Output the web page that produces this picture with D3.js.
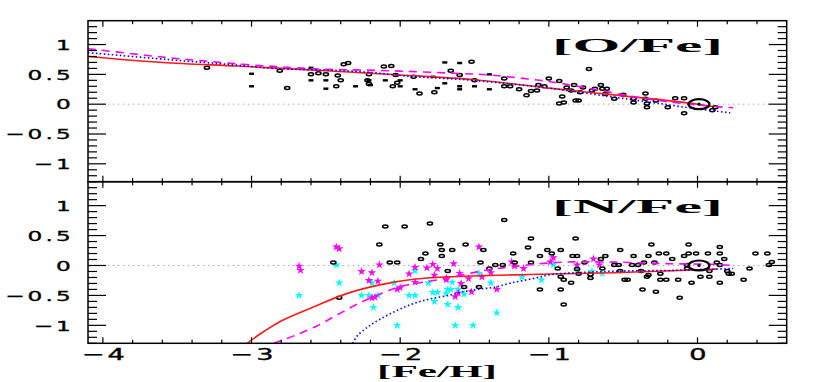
<!DOCTYPE html>
<html>
<head>
<meta charset="utf-8">
<script src="https://cdn.jsdelivr.net/npm/d3@7"></script>
<style>
  body { margin: 0; background: #fff; }
  svg { display: block; }
</style>
</head>
<body>
<div id="chart"></div>
<script>
// tick values / labels
const xMajor = [-4, -3, -2, -1, 0];
const xLabels = ["\u22124", "\u22123", "\u22122", "\u22121", "0"];
const yMajor = [1, 0.5, 0, -0.5, -1];
const yLabels = ["1", "0.5", "0", "\u22120.5", "\u22121"];

// [O/Fe] model curves: [Fe/H], value
const oRed = [[-4.1,0.80],[-3.6,0.70],[-3.1,0.64],[-2.8,0.60],[-2.5,0.56],[-2.0,0.49],[-1.5,0.41],[-1.0,0.27],[-0.5,0.14],[0.0,0.0],[0.1,-0.04]];
const oMagenta = [[-4.1,0.93],[-3.6,0.79],[-3.34,0.73],[-3.06,0.67],[-2.8,0.625],[-2.55,0.59],[-2.3,0.575],[-2.0,0.555],[-1.65,0.52],[-1.4,0.49],[-1.13,0.42],[-1.0,0.38],[-0.76,0.28],[-0.47,0.145],[-0.21,0.045],[0.07,-0.03],[0.24,-0.06]];
const oBlue = [[-4.1,0.865],[-3.57,0.75],[-3.12,0.66],[-2.85,0.60],[-2.29,0.55],[-1.9,0.46],[-1.56,0.41],[-1.22,0.33],[-1.03,0.28],[-0.61,0.135],[-0.31,0.03],[0.0,-0.08],[0.22,-0.145]];

// [O/Fe] observations
const oOvals = [[-3.30,0.61],[-2.76,0.27],[-2.81,0.56],[-2.60,0.50],[-2.55,0.52],[-2.50,0.50],[-2.42,0.48],[-2.40,0.40],[-2.43,0.30],[-2.38,0.67],[-2.35,0.69],[-2.22,0.40],[-2.21,0.34],[-2.21,0.50],[-2.11,0.63],[-2.06,0.64],[-2.05,0.30],[-2.02,0.36],[-2.03,0.49],[-1.91,0.46],[-1.87,0.18],[-1.77,0.20],[-1.66,0.56],[-1.60,0.49],[-1.52,0.71],[-1.50,0.40],[-1.30,0.43],[-1.30,0.30],[-1.26,0.30],[-1.20,0.25],[-1.15,0.15],[-1.12,0.22],[-1.08,0.23],[-1.07,0.32],[-1.03,0.30],[-1.00,0.43],[-0.93,0.39],[-0.91,0.13],[-0.90,0.03],[-0.93,0.01],[-0.88,0.28],[-0.83,0.32],[-0.85,0.23],[-0.82,0.06],[-0.80,0.06],[-0.79,0.20],[-0.77,0.28],[-0.73,0.59],[-0.71,0.23],[-0.69,0.26],[-0.65,0.32],[-0.64,0.26],[-0.61,0.26],[-0.62,0.17],[-0.56,0.09],[-0.50,0.16],[-0.43,0.09],[-0.43,0.03],[-0.35,0.18],[-0.35,0.09],[-0.34,0.01],[-0.34,-0.05],[-0.28,0.06],[-0.20,-0.05],[-0.15,0.10],[-0.09,0.10],[-0.09,-0.15],[0.10,-0.10],[0.12,-0.05]];
const oBars = [[-3.00,0.51],[-3.00,0.30],[-2.60,0.61],[-2.60,0.40],[-2.50,0.40],[-2.50,0.26],[-2.30,0.30],[-2.20,0.32],[-2.21,0.40],[-2.10,0.40],[-2.00,0.30],[-2.00,0.40],[-1.90,0.25],[-1.78,0.46],[-1.75,0.27],[-1.70,0.70],[-1.70,0.35],[-1.60,0.69],[-1.60,0.30],[-1.60,0.25],[-1.50,0.30],[-1.40,0.50],[-1.40,0.25]];

// [N/Fe] model curves
const nRed = [[-3.03,-1.30],[-2.91,-1.09],[-2.81,-0.94],[-2.58,-0.69],[-2.36,-0.47],[-2.13,-0.32],[-1.91,-0.23],[-1.68,-0.19],[-1.13,-0.15],[-0.56,-0.12],[0.13,-0.06]];
const nMagenta = [[-2.85,-1.30],[-2.72,-1.18],[-2.56,-1.01],[-2.42,-0.82],[-2.28,-0.635],[-2.12,-0.46],[-1.98,-0.34],[-1.75,-0.24],[-1.59,-0.16],[-1.45,-0.09],[-1.31,-0.04],[-0.95,0.05],[-0.68,0.06],[-0.45,0.05],[-0.19,0.03],[0.09,0.02],[0.24,0.0]];
const nBlue = [[-2.32,-1.30],[-2.29,-1.18],[-2.22,-1.03],[-2.13,-0.89],[-2.02,-0.75],[-1.91,-0.635],[-1.80,-0.56],[-1.68,-0.50],[-1.58,-0.44],[-1.47,-0.395],[-1.36,-0.36],[-1.25,-0.29],[-1.11,-0.22],[-0.98,-0.15],[-0.80,-0.12],[-0.57,-0.095],[-0.13,-0.08],[0.24,-0.05]];

// [N/Fe] observations
const nBlack = [[-2.10,0.65],[-1.97,0.65],[-1.80,0.70],[-2.14,0.35],[-2.45,0.05],[-2.07,0.05],[-2.02,0.05],[-2.41,-0.54],[-1.73,0.35],[-1.72,0.26],[-1.72,0.16],[-1.83,0.20],[-1.86,0.11],[-1.68,-0.09],
  [-1.30,0.76],[-1.56,0.35],[-1.65,0.26],[-1.44,0.26],[-1.46,0.05],[-1.36,0.01],[-1.31,0.01],[-1.40,-0.05],[-1.57,-0.36],[-1.47,-0.36],[-1.24,0.20],[-1.23,0.05],[-1.12,0.45],[-1.14,0.30],[-1.12,0.05],[-1.06,0.16],[-1.06,-0.40],[-1.01,0.26],[-0.98,0.20],[-0.92,0.26],[-0.94,-0.05],[-0.92,-0.19],[-0.90,-0.24],[-0.85,-0.29],[-0.92,-0.40],[-0.90,-0.65],[-0.82,0.45],[-0.84,0.16],[-0.81,0.16],[-0.76,0.05],[-0.81,-0.06],[-0.80,-0.14],[-0.72,-0.15],[-0.72,-0.21],[-0.65,0.11],[-0.62,0.16],[-0.64,-0.05],[-0.56,0.01],
  [-0.52,0.26],[-0.53,0.01],[-0.43,0.16],[-0.44,0.01],[-0.40,0.01],[-0.36,0.05],[-0.52,-0.09],[-0.49,-0.24],[-0.47,-0.24],[-0.38,-0.09],[-0.34,-0.19],[-0.33,-0.16],[-0.37,-0.40],[-0.31,0.35],[-0.33,0.16],[-0.29,0.05],[-0.28,-0.44],[-0.26,0.20],[-0.21,0.20],[-0.25,-0.14],[-0.25,-0.24],[-0.21,-0.24],[-0.17,0.11],[-0.13,-0.24],[-0.12,-0.54],[-0.09,0.16],[-0.06,0.35],[-0.06,0.20],[-0.01,0.20],[-0.04,-0.29],[-0.07,0.01],[-0.07,-0.05],[0.02,-0.19],[0.07,0.20],[0.08,-0.19],[0.08,-0.09],[0.13,0.05],[0.15,0.31],[0.15,0.20],[0.18,0.11],[0.15,0.01],[0.15,-0.29],[0.20,-0.09],[0.21,-0.14],[0.23,-0.14],[0.31,-0.24],[0.35,-0.05],[0.39,0.20],[0.47,0.20],[0.50,0.06],[0.48,0.01]];
const nMagentaStars = [[-2.43,0.31],[-2.41,0.28],[-2.68,-0.01],[-2.67,-0.08],[-2.14,0.01],[-2.26,-0.10],[-2.19,-0.12],[-2.21,-0.25],[-2.15,-0.26],[-2.19,-0.54],[-2.17,-0.53],[-2.02,-0.40],[-2.00,-0.37],[-1.94,-0.14],[-1.90,-0.03],[-1.90,-0.28],[-1.82,-0.04],[-1.78,0.02],[-1.75,-0.05],[-1.77,-0.16],[-1.69,-0.21],[-1.69,-0.24],
  [-1.47,0.31],[-1.64,0.03],[-1.60,-0.13],[-1.59,-0.30],[-1.61,-0.46],[-1.63,-0.52],[-1.54,-0.22],[-1.52,-0.44],[-1.35,-0.40],[-1.45,-0.19],[-1.39,-0.12],[-1.25,0.06],[-1.23,-0.01],[-1.17,-0.05],[-0.97,0.13],[-0.99,0.06],[-0.81,0.01],[-0.70,0.11],[-0.66,0.01]];
const nCyanStars = [[-2.43,0.01],[-2.41,-0.29],[-2.68,-0.50],[-2.26,-0.50],[-2.21,-0.50],[-2.15,-0.50],[-2.19,-0.29],[-2.04,-0.29],[-2.18,-0.70],[-2.02,-1.00],[-1.94,-0.50],[-1.90,-0.50],[-1.90,-0.09],[-1.81,-0.29],[-1.78,-0.45],[-1.75,-0.45],[-1.77,-0.60],[-1.68,-0.40],[-1.69,-0.47],[-1.68,-0.65],
  [-1.65,-0.28],[-1.66,-0.40],[-1.61,-0.40],[-1.57,-0.48],[-1.61,-0.70],[-1.47,-0.13],[-1.39,-0.29],[-1.35,-0.79],[-1.63,-1.00],[-1.51,-1.00],[-1.18,-0.19],[-1.05,-0.24],[-0.97,0.01],[-0.81,-0.09],[-0.71,-0.10],[-0.64,-0.13]];

const sun = [0.01, 0.0];

const W = 830, H = 382;
const left = 88, right = 786.7;
const panels = [
  { top: 20.7, bottom: 181.7, label: "[O/Fe]", labelY: 51.7 },
  { top: 181.7, bottom: 343.3, label: "[N/Fe]", labelY: 213.3 }
];

const svg = d3.select("#chart").append("svg")
  .attr("width", W).attr("height", H);

const x = d3.scaleLinear().domain([-4.1, 0.6]).range([left, right]);

const sansFont = "'DejaVu Sans', sans-serif";
const serifFont = "'Liberation Serif', 'Times New Roman', serif";

function drawPanel(p, idx, models, drawPoints) {
  const y = d3.scaleLinear().domain([-1.3, 1.4]).range([p.bottom, p.top]);
  const g = svg.append("g");
  const clipId = "clip" + idx;
  svg.append("clipPath").attr("id", clipId)
    .append("rect").attr("x", left).attr("y", p.top)
    .attr("width", right - left).attr("height", p.bottom - p.top);

  // zero line
  g.append("line")
    .attr("x1", x(-4)).attr("x2", x(0.5))
    .attr("y1", y(0)).attr("y2", y(0))
    .attr("stroke", "#aaa").attr("stroke-width", 1)
    .attr("stroke-dasharray", "1.5,3.5");

  const pts = g.append("g").attr("clip-path", `url(#${clipId})`);
  drawPoints(pts, y);

  const line = d3.line().x(d => x(d[0])).y(d => y(d[1])).curve(d3.curveCatmullRom.alpha(0.5));
  const lg = g.append("g").attr("clip-path", `url(#${clipId})`).attr("fill", "none");
  lg.append("path").datum(models.red).attr("d", line)
    .attr("stroke", "#ff1a1a").attr("stroke-width", 1.6);
  lg.append("path").datum(models.magenta).attr("d", line)
    .attr("stroke", "#ff00ff").attr("stroke-width", 1.6).attr("stroke-dasharray", "8,6");
  lg.append("path").datum(models.blue).attr("d", line)
    .attr("stroke", "#0000ff").attr("stroke-width", 1.6).attr("stroke-dasharray", "1.5,2.5");

  // sun symbol
  g.append("ellipse").attr("cx", x(sun[0])).attr("cy", y(sun[1]))
    .attr("rx", 10.5).attr("ry", 5).attr("fill", "none")
    .attr("stroke", "#000").attr("stroke-width", 2.2);
  g.append("circle").attr("cx", x(sun[0])).attr("cy", y(sun[1]))
    .attr("r", 1.6).attr("fill", "#000");

  // frame
  g.append("rect").attr("x", left).attr("y", p.top)
    .attr("width", right - left).attr("height", p.bottom - p.top)
    .attr("fill", "none").attr("stroke", "#000").attr("stroke-width", 1.5);

  // y ticks (left and right, inward)
  const yMinor = d3.range(-13, 14).map(v => v / 10);
  yMinor.forEach(v => {
    const major = Math.abs(v * 2 - Math.round(v * 2)) < 1e-6;
    const len = major ? 18 : 9;
    g.append("line").attr("x1", left).attr("x2", left + len)
      .attr("y1", y(v)).attr("y2", y(v)).attr("stroke", "#000").attr("stroke-width", 1.2);
    g.append("line").attr("x1", right).attr("x2", right - len)
      .attr("y1", y(v)).attr("y2", y(v)).attr("stroke", "#000").attr("stroke-width", 1.2);
  });

  // x ticks (top and bottom, inward)
  const xMinor = d3.range(-20, 3).map(v => v / 5);
  xMinor.forEach(v => {
    const major = Math.abs(v - Math.round(v)) < 1e-6;
    const len = major ? 6 : 3.5;
    g.append("line").attr("x1", x(v)).attr("x2", x(v))
      .attr("y1", p.top).attr("y2", p.top + len).attr("stroke", "#000").attr("stroke-width", 1.2);
    g.append("line").attr("x1", x(v)).attr("x2", x(v))
      .attr("y1", p.bottom).attr("y2", p.bottom - len).attr("stroke", "#000").attr("stroke-width", 1.2);
  });

  // y tick labels, stretched wide like the original plotting font
  yMajor.forEach((v, i) => {
    g.append("text")
      .attr("transform", `translate(74,${y(v) + 5.3}) scale(1.6,1)`)
      .attr("text-anchor", "end")
      .attr("stroke", "#000").attr("stroke-width", 0.35)
      .style("font-family", sansFont)
      .style("font-size", "14.5px").style("letter-spacing", "2px")
      .text(yLabels[i]);
  });

  // panel label
  g.append("text")
    .attr("x", 552).attr("y", p.labelY)
    .attr("textLength", 171).attr("lengthAdjust", "spacingAndGlyphs")
    .style("font-family", serifFont).style("font-weight", "bold")
    .style("font-size", "19px")
    .text(p.label);

  return y;
}

function ovals(sel, data, y) {
  sel.selectAll(null).data(data).enter().append("ellipse")
    .attr("cx", d => x(d[0])).attr("cy", d => y(d[1]))
    .attr("rx", 2.6).attr("ry", 1.5)
    .attr("fill", "none").attr("stroke", "#000").attr("stroke-width", 1.5);
}

function stars(sel, data, y, color) {
  const sym = d3.symbol(d3.symbolStar, 22);
  sel.selectAll(null).data(data).enter().append("path")
    .attr("d", sym)
    .attr("transform", d => `translate(${x(d[0])},${y(d[1])})`)
    .attr("fill", color);
}

drawPanel(panels[0], 0, { red: oRed, magenta: oMagenta, blue: oBlue }, (sel, y) => {
  ovals(sel, oOvals, y);
  sel.selectAll(null).data(oBars).enter().append("rect")
    .attr("x", d => x(d[0]) - 2.5).attr("y", d => y(d[1]) - 1.2)
    .attr("width", 5).attr("height", 2.4).attr("fill", "#000");
});

drawPanel(panels[1], 1, { red: nRed, magenta: nMagenta, blue: nBlue }, (sel, y) => {
  stars(sel, nCyanStars, y, "#00ffff");
  stars(sel, nMagentaStars, y, "#ff00ff");
  ovals(sel, nBlack, y);
});

// x tick labels
xMajor.forEach((v, i) => {
  svg.append("text")
    .attr("transform", `translate(${x(v) + 2},360) scale(1.7,1)`)
    .attr("text-anchor", "middle")
    .attr("stroke", "#000").attr("stroke-width", 0.35)
    .style("font-family", sansFont)
    .style("font-size", "16px").style("letter-spacing", "2px")
    .text(xLabels[i]);
});

// x axis title
svg.append("text")
  .attr("x", 377).attr("y", 376.5)
  .attr("textLength", 120).attr("lengthAdjust", "spacingAndGlyphs")
  .style("font-family", serifFont).style("font-weight", "bold")
  .style("font-size", "16px")
  .text("[Fe/H]");
</script>
</body>
</html>
